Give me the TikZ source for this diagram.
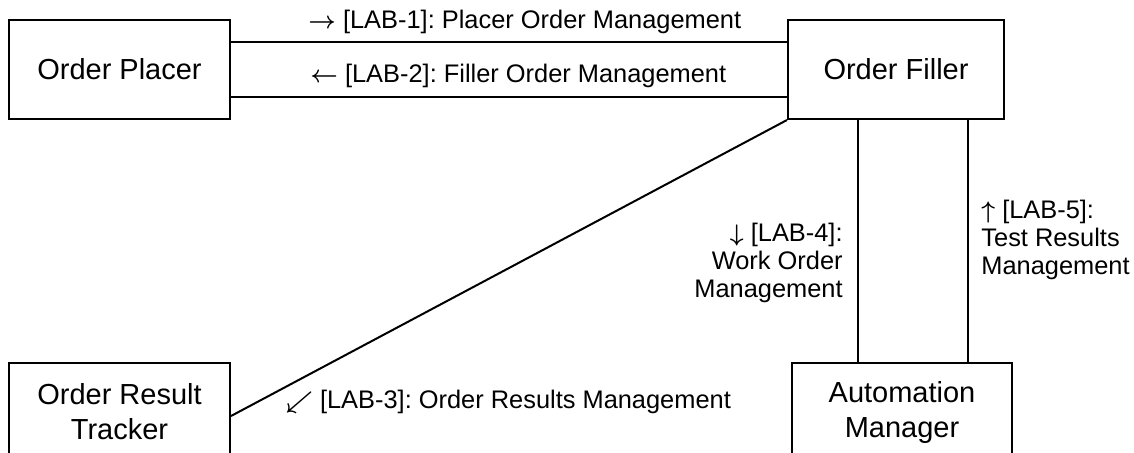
\documentclass[tikz,border=0pt]{standalone}
\usepackage{fontspec}
\setmainfont{Liberation Sans}
\frenchspacing
\usetikzlibrary{positioning}
\tikzstyle{party}=[rectangle,draw=black,line width=1pt,inner sep=0mm,minimum height=49.5pt,align=center,font=\fontsize{14.5}{17.5}\selectfont]
\tikzstyle{msg}=[inner sep=0mm,font=\fontsize{12.7}{14}\selectfont]
\tikzstyle{link}=[line width=1pt]
\newcommand \dirarrow [1] {{\boldmath$#1$}}

\begin{document}
\begin{tikzpicture}[x=0.5pt,y=-0.5pt]
        \useasboundingbox (0,0) rectangle (1134,452);
        \node[party,minimum width=110.5pt] at (119.5,69.5) (placer) {Order Placer};
        \node[party,minimum width=108pt] at (896,69.5) (filler) {Order Filler};
        \node[party,minimum width=110.5pt] at (119.5,412) (tracker) {Order Result\\Tracker};
        \node[party,minimum width=110pt] at (902,412) (automgr) {Automation\\Manager};
        \draw[link] ([yshift=13.75pt]placer.east) -- ([yshift=13.75pt]filler.west);
        \draw[link] ([yshift=-13.75pt]placer.east) -- ([yshift=-13.75pt]filler.west);
        \draw[link] (filler.south west) -- ([yshift=-2pt]tracker.east);
        \draw[link] ([xshift=-22pt]automgr.north) -- ([xshift=-22pt]automgr.north |- filler.south);
        \draw[link] ([xshift=33pt]automgr.north) -- ([xshift=33pt]automgr.north |- filler.south);
        \node[msg,anchor=west] at (308,22) (lab1) {\dirarrow{\rightarrow} [LAB-1]: Placer Order Management};
        \node[msg,anchor=west] at (310,76) (lab2) {\dirarrow{\leftarrow} [LAB-2]: Filler Order Management};
        \node[msg,anchor=west] at (285,402) (lab3) {\dirarrow{\swarrow} [LAB-3]: Order Results Management};
        \node[msg,anchor=east,align=right] at (843,263) (lab4) {\dirarrow{\downarrow} [LAB-4]:\\Work Order\\Management};
        \node[msg,anchor=west,align=left] at (981,240) (lab5) {\dirarrow{\uparrow} [LAB-5]:\\Test Results\\Management};
\end{tikzpicture}
\end{document}
